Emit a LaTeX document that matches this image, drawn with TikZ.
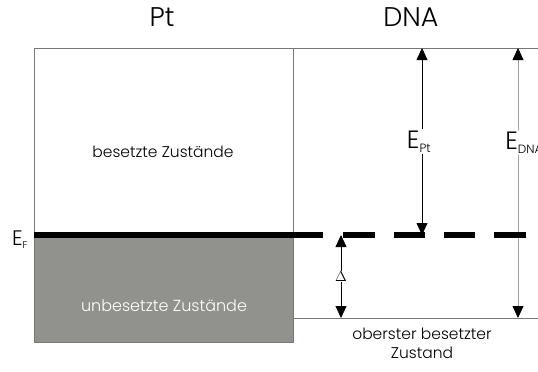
\documentclass[tikz,border=0pt]{standalone}
\usepackage{fontspec}
\setmainfont{Poppins}[UprightFont=* Light]
\usetikzlibrary{arrows.meta}
\definecolor{fillgray}{RGB}{145,145,141}
\definecolor{linegray}{RGB}{120,120,120}
\definecolor{lightline}{RGB}{160,160,160}
\tikzset{
  thin line/.style={draw=linegray, line width=0.9pt},
  earrow/.style={line width=0.8pt, {Triangle[length=12pt,width=11pt,color=black]}-{Triangle[length=12pt,width=11pt,color=black]}},
  lbl/.style={inner sep=1pt, font=\fontsize{15.5}{19}\selectfont},
  big/.style={inner sep=1pt, font=\fontsize{25}{27}\selectfont},
  title/.style={inner sep=1pt, font=\fontsize{27}{29}\selectfont},
}
\begin{document}
\begin{tikzpicture}[x=1pt,y=-1pt]
\useasboundingbox (0,0) rectangle (538,372);
\clip (0,0) rectangle (538,372);
% gray region
\fill[fillgray] (34,235) rectangle (293,342);
\draw[thin line] (34,48) rectangle (293,342);
\draw[thin line] (293,48) -- (540,48);
\draw[thin line] (293,318) -- (540,318);
% named coordinates
\coordinate (eptTop) at (422,48);
\coordinate (eptBot) at (422,235);
\coordinate (ednaTop) at (518,48);
\coordinate (ednaBot) at (518,318);
\coordinate (dTop) at (341,235);
\coordinate (dBot) at (341,318);
% arrows
\draw[earrow, black] (eptTop) -- node[big, fill=white, inner sep=2pt, xshift=-3pt] (ept) {E\textsubscript{\fontsize{12}{13}\selectfont Pt}} (eptBot);
\draw[earrow, draw=lightline] (ednaTop) -- node[pos=0.35, big, fill=white, inner sep=2pt, anchor=west, xshift=-15pt] (edna) {E\textsubscript{\fontsize{12}{13}\selectfont DNA}} (ednaBot);
\draw[earrow, black] (dTop) -- node[fill=white, inner sep=1pt, font=\fontsize{15}{16}\selectfont] (delta) {$\Delta$} (dBot);
% Fermi level
\coordinate (fStart) at (34,235);
\coordinate (fSolid) at (323,235);
\draw[line width=5.5pt] (fStart) -- (fSolid);
\draw[line width=5.5pt] (343,235) -- (375,235) (394,235) -- (425,235) (444,235) -- (475,235) (494,235) -- (526,235);
% texts
\node[title] (pt) at (162,17) {Pt};
\node[title] (dna) at (411,17) {DNA};
\node[lbl] (bes) at (163,152) {besetzte Zustände};
\node[lbl, text=white, font=\fontsize{16}{19}\selectfont] (unbes) at (164,306) {unbesetzte Zustände};
\node[big, font=\fontsize{21}{22}\selectfont] (ef) at (20,240) {E\textsubscript{\fontsize{10}{10}\selectfont F}};
\node[lbl, align=center] (ober) at (422,343) {oberster besetzter\\Zustand};
\end{tikzpicture}
\end{document}
